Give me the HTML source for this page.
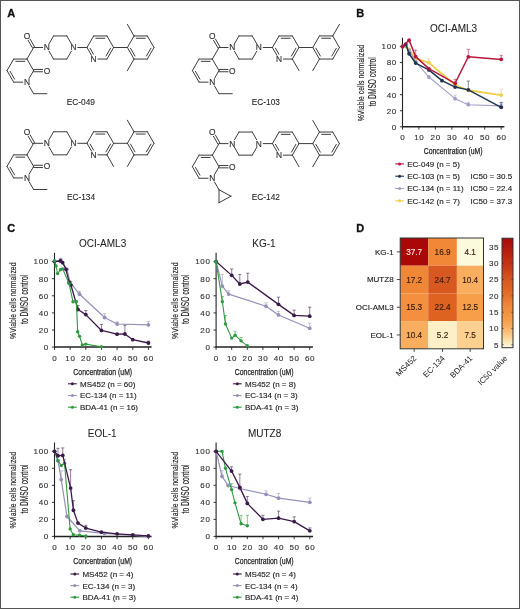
<!DOCTYPE html><html><head><meta charset="utf-8"><style>html,body{margin:0;padding:0;background:#fff;}svg{display:block;will-change:transform;}text{font-family:"Liberation Sans", sans-serif;}</style></head><body>
<svg width="520" height="609" viewBox="0 0 520 609">
<rect x="0" y="0" width="520" height="609" fill="#fff"/>
<text x="7.30" y="17.10" font-size="11" fill="#111" text-anchor="start" font-weight="bold" stroke="#111" stroke-width="0.3">A</text>
<text x="356.20" y="17.10" font-size="11" fill="#111" text-anchor="start" font-weight="bold" stroke="#111" stroke-width="0.3">B</text>
<text x="7.30" y="232.10" font-size="11" fill="#111" text-anchor="start" font-weight="bold" stroke="#111" stroke-width="0.3">C</text>
<text x="356.20" y="231.70" font-size="11" fill="#111" text-anchor="start" font-weight="bold" stroke="#111" stroke-width="0.3">D</text>
<path d="M34.60 46.93L30.09 39.10M32.60 48.07L28.10 40.25M33.60 47.50L26.95 59.05M33.60 47.50L42.60 47.50M26.95 59.05L33.60 70.60M33.60 71.75L42.60 71.75M33.60 69.45L42.60 69.45M33.60 70.60L29.10 78.42M22.65 82.15L13.65 82.15M13.65 82.15L7.00 70.60M14.55 79.10L10.09 71.36M7.00 70.60L13.65 59.05M13.65 59.05L26.95 59.05M15.85 61.35L24.75 61.35M49.05 43.77L53.55 35.95M53.55 35.95L66.85 35.95M66.85 35.95L71.35 43.77M71.35 51.23L66.85 59.05M66.85 59.05L53.55 59.05M53.55 59.05L49.05 51.23M77.80 47.50L87.00 47.50M87.00 47.50L93.65 35.95M93.65 35.95L106.95 35.95M95.85 38.25L104.75 38.25M106.95 35.95L113.60 47.50M113.60 47.50L106.95 59.05M110.51 48.26L106.05 56.00M106.95 59.05L97.95 59.05M91.50 55.32L87.00 47.50M93.50 54.18L90.09 48.26M113.60 47.50L127.40 47.50M127.40 47.50L134.05 35.95M134.05 35.95L147.35 35.95M136.25 38.25L145.15 38.25M147.35 35.95L154.00 47.50M154.00 47.50L147.35 59.05M150.91 48.26L146.45 56.00M147.35 59.05L134.05 59.05M134.05 59.05L127.40 47.50M134.95 56.00L130.49 48.26M134.05 35.95L127.40 24.40M134.05 59.05L127.40 70.60M29.10 85.88L33.60 93.70M33.60 93.70L46.90 93.70" stroke="#3d3d3d" stroke-width="1.0" fill="none" stroke-linecap="round"/>
<text x="26.95" y="38.85" font-size="8.4" fill="#333" stroke="#333" stroke-width="0.15" text-anchor="middle">O</text>
<text x="46.90" y="73.50" font-size="8.4" fill="#333" stroke="#333" stroke-width="0.15" text-anchor="middle">O</text>
<text x="26.95" y="85.05" font-size="8.4" fill="#333" stroke="#333" stroke-width="0.15" text-anchor="middle">N</text>
<text x="46.90" y="50.40" font-size="8.4" fill="#333" stroke="#333" stroke-width="0.15" text-anchor="middle">N</text>
<text x="73.50" y="50.40" font-size="8.4" fill="#333" stroke="#333" stroke-width="0.15" text-anchor="middle">N</text>
<text x="93.65" y="61.95" font-size="8.4" fill="#333" stroke="#333" stroke-width="0.15" text-anchor="middle">N</text>
<path d="M220.00 46.93L215.49 39.10M218.00 48.07L213.50 40.25M219.00 47.50L212.35 59.05M219.00 47.50L228.00 47.50M212.35 59.05L219.00 70.60M219.00 71.75L228.00 71.75M219.00 69.45L228.00 69.45M219.00 70.60L214.50 78.42M208.05 82.15L199.05 82.15M199.05 82.15L192.40 70.60M199.95 79.10L195.49 71.36M192.40 70.60L199.05 59.05M199.05 59.05L212.35 59.05M201.25 61.35L210.15 61.35M234.45 43.77L238.95 35.95M238.95 35.95L252.25 35.95M252.25 35.95L256.75 43.77M256.75 51.23L252.25 59.05M252.25 59.05L238.95 59.05M238.95 59.05L234.45 51.23M263.20 47.50L272.40 47.50M272.40 47.50L279.05 35.95M279.05 35.95L292.35 35.95M281.25 38.25L290.15 38.25M292.35 35.95L299.00 47.50M299.00 47.50L292.35 59.05M295.91 48.26L291.45 56.00M292.35 59.05L283.35 59.05M276.90 55.32L272.40 47.50M278.90 54.18L275.49 48.26M299.00 47.50L312.80 47.50M312.80 47.50L319.45 35.95M319.45 35.95L332.75 35.95M321.65 38.25L330.55 38.25M332.75 35.95L339.40 47.50M339.40 47.50L332.75 59.05M336.31 48.26L331.85 56.00M332.75 59.05L319.45 59.05M319.45 59.05L312.80 47.50M320.35 56.00L315.89 48.26M292.35 59.05L299.00 70.60M332.75 35.95L339.40 24.40M319.45 59.05L312.80 70.60M214.50 85.88L219.00 93.70M219.00 93.70L232.30 93.70" stroke="#3d3d3d" stroke-width="1.0" fill="none" stroke-linecap="round"/>
<text x="212.35" y="38.85" font-size="8.4" fill="#333" stroke="#333" stroke-width="0.15" text-anchor="middle">O</text>
<text x="232.30" y="73.50" font-size="8.4" fill="#333" stroke="#333" stroke-width="0.15" text-anchor="middle">O</text>
<text x="212.35" y="85.05" font-size="8.4" fill="#333" stroke="#333" stroke-width="0.15" text-anchor="middle">N</text>
<text x="232.30" y="50.40" font-size="8.4" fill="#333" stroke="#333" stroke-width="0.15" text-anchor="middle">N</text>
<text x="258.90" y="50.40" font-size="8.4" fill="#333" stroke="#333" stroke-width="0.15" text-anchor="middle">N</text>
<text x="279.05" y="61.95" font-size="8.4" fill="#333" stroke="#333" stroke-width="0.15" text-anchor="middle">N</text>
<path d="M34.60 142.73L30.09 134.90M32.60 143.87L28.10 136.05M33.60 143.30L26.95 154.85M33.60 143.30L42.60 143.30M26.95 154.85L33.60 166.40M33.60 167.55L42.60 167.55M33.60 165.25L42.60 165.25M33.60 166.40L29.10 174.22M22.65 177.95L13.65 177.95M13.65 177.95L7.00 166.40M14.55 174.90L10.09 167.16M7.00 166.40L13.65 154.85M13.65 154.85L26.95 154.85M15.85 157.15L24.75 157.15M49.05 139.57L53.55 131.75M53.55 131.75L66.85 131.75M66.85 131.75L71.35 139.57M71.35 147.03L66.85 154.85M66.85 154.85L53.55 154.85M53.55 154.85L49.05 147.03M77.80 143.30L87.00 143.30M87.00 143.30L93.65 131.75M93.65 131.75L106.95 131.75M95.85 134.05L104.75 134.05M106.95 131.75L113.60 143.30M113.60 143.30L106.95 154.85M110.51 144.06L106.05 151.80M106.95 154.85L97.95 154.85M91.50 151.12L87.00 143.30M93.50 149.98L90.09 144.06M113.60 143.30L127.40 143.30M127.40 143.30L134.05 131.75M134.05 131.75L147.35 131.75M136.25 134.05L145.15 134.05M147.35 131.75L154.00 143.30M154.00 143.30L147.35 154.85M150.91 144.06L146.45 151.80M147.35 154.85L134.05 154.85M134.05 154.85L127.40 143.30M134.95 151.80L130.49 144.06M106.95 154.85L113.60 166.40M134.05 131.75L127.40 120.20M134.05 154.85L127.40 166.40M29.10 181.68L33.60 189.50M33.60 189.50L46.90 189.50" stroke="#3d3d3d" stroke-width="1.0" fill="none" stroke-linecap="round"/>
<text x="26.95" y="134.65" font-size="8.4" fill="#333" stroke="#333" stroke-width="0.15" text-anchor="middle">O</text>
<text x="46.90" y="169.30" font-size="8.4" fill="#333" stroke="#333" stroke-width="0.15" text-anchor="middle">O</text>
<text x="26.95" y="180.85" font-size="8.4" fill="#333" stroke="#333" stroke-width="0.15" text-anchor="middle">N</text>
<text x="46.90" y="146.20" font-size="8.4" fill="#333" stroke="#333" stroke-width="0.15" text-anchor="middle">N</text>
<text x="73.50" y="146.20" font-size="8.4" fill="#333" stroke="#333" stroke-width="0.15" text-anchor="middle">N</text>
<text x="93.65" y="157.75" font-size="8.4" fill="#333" stroke="#333" stroke-width="0.15" text-anchor="middle">N</text>
<path d="M220.00 143.03L215.49 135.20M218.00 144.17L213.50 136.35M219.00 143.60L212.35 155.15M219.00 143.60L228.00 143.60M212.35 155.15L219.00 166.70M219.00 167.85L228.00 167.85M219.00 165.55L228.00 165.55M219.00 166.70L214.50 174.52M208.05 178.25L199.05 178.25M199.05 178.25L192.40 166.70M199.95 175.20L195.49 167.46M192.40 166.70L199.05 155.15M199.05 155.15L212.35 155.15M201.25 157.45L210.15 157.45M234.45 139.87L238.95 132.05M238.95 132.05L252.25 132.05M252.25 132.05L256.75 139.87M256.75 147.33L252.25 155.15M252.25 155.15L238.95 155.15M238.95 155.15L234.45 147.33M263.20 143.60L272.40 143.60M272.40 143.60L279.05 132.05M279.05 132.05L292.35 132.05M281.25 134.35L290.15 134.35M292.35 132.05L299.00 143.60M299.00 143.60L292.35 155.15M295.91 144.36L291.45 152.10M292.35 155.15L283.35 155.15M276.90 151.42L272.40 143.60M278.90 150.28L275.49 144.36M299.00 143.60L312.80 143.60M312.80 143.60L319.45 132.05M319.45 132.05L332.75 132.05M321.65 134.35L330.55 134.35M332.75 132.05L339.40 143.60M339.40 143.60L332.75 155.15M336.31 144.36L331.85 152.10M332.75 155.15L319.45 155.15M319.45 155.15L312.80 143.60M320.35 152.10L315.89 144.36M292.35 155.15L299.00 166.70M319.45 132.05L312.80 120.50M319.45 155.15L312.80 166.70M214.50 181.98L219.00 189.80M219.00 189.80L231.00 196.20M231.00 196.20L219.00 202.70M219.00 202.70L219.00 189.80" stroke="#3d3d3d" stroke-width="1.0" fill="none" stroke-linecap="round"/>
<text x="212.35" y="134.95" font-size="8.4" fill="#333" stroke="#333" stroke-width="0.15" text-anchor="middle">O</text>
<text x="232.30" y="169.60" font-size="8.4" fill="#333" stroke="#333" stroke-width="0.15" text-anchor="middle">O</text>
<text x="212.35" y="181.15" font-size="8.4" fill="#333" stroke="#333" stroke-width="0.15" text-anchor="middle">N</text>
<text x="232.30" y="146.50" font-size="8.4" fill="#333" stroke="#333" stroke-width="0.15" text-anchor="middle">N</text>
<text x="258.90" y="146.50" font-size="8.4" fill="#333" stroke="#333" stroke-width="0.15" text-anchor="middle">N</text>
<text x="279.05" y="158.05" font-size="8.4" fill="#333" stroke="#333" stroke-width="0.15" text-anchor="middle">N</text>
<text x="66.8" y="104.7" font-size="8.4" fill="#222" stroke="#222" stroke-width="0.08" textLength="28.2" lengthAdjust="spacingAndGlyphs">EC-049</text>
<text x="251.7" y="104.7" font-size="8.4" fill="#222" stroke="#222" stroke-width="0.08" textLength="28.2" lengthAdjust="spacingAndGlyphs">EC-103</text>
<text x="66.9" y="200.1" font-size="8.4" fill="#222" stroke="#222" stroke-width="0.08" textLength="28.2" lengthAdjust="spacingAndGlyphs">EC-134</text>
<text x="251.7" y="200.2" font-size="8.4" fill="#222" stroke="#222" stroke-width="0.08" textLength="28.2" lengthAdjust="spacingAndGlyphs">EC-142</text>
<path d="M402.50 37.70V127.10" stroke="#222" stroke-width="1.1" fill="none"/>
<path d="M402.00 126.80H504.40" stroke="#222" stroke-width="1.5" fill="none"/>
<path d="M399.90 126.80H402.5M399.90 110.74H402.5M399.90 94.68H402.5M399.90 78.62H402.5M399.90 62.56H402.5M399.90 46.50H402.5M402.50 126.8V129.60M418.95 126.8V129.60M435.40 126.8V129.60M451.85 126.8V129.60M468.30 126.8V129.60M484.75 126.8V129.60M501.20 126.8V129.60" stroke="#222" stroke-width="0.9" fill="none"/>
<text x="397.00" y="129.65" font-size="8" fill="#333" text-anchor="end" font-weight="normal" stroke="#333" stroke-width="0.14" letter-spacing="0.7" >0</text>
<text x="397.00" y="113.59" font-size="8" fill="#333" text-anchor="end" font-weight="normal" stroke="#333" stroke-width="0.14" letter-spacing="0.7" >20</text>
<text x="397.00" y="97.53" font-size="8" fill="#333" text-anchor="end" font-weight="normal" stroke="#333" stroke-width="0.14" letter-spacing="0.7" >40</text>
<text x="397.00" y="81.47" font-size="8" fill="#333" text-anchor="end" font-weight="normal" stroke="#333" stroke-width="0.14" letter-spacing="0.7" >60</text>
<text x="397.00" y="65.41" font-size="8" fill="#333" text-anchor="end" font-weight="normal" stroke="#333" stroke-width="0.14" letter-spacing="0.7" >80</text>
<text x="397.00" y="49.35" font-size="8" fill="#333" text-anchor="end" font-weight="normal" stroke="#333" stroke-width="0.14" letter-spacing="0.7" >100</text>
<text x="402.85" y="140.30" font-size="8" fill="#333" text-anchor="middle" font-weight="normal" stroke="#333" stroke-width="0.14" letter-spacing="0.7" >0</text>
<text x="419.30" y="140.30" font-size="8" fill="#333" text-anchor="middle" font-weight="normal" stroke="#333" stroke-width="0.14" letter-spacing="0.7" >10</text>
<text x="435.75" y="140.30" font-size="8" fill="#333" text-anchor="middle" font-weight="normal" stroke="#333" stroke-width="0.14" letter-spacing="0.7" >20</text>
<text x="452.20" y="140.30" font-size="8" fill="#333" text-anchor="middle" font-weight="normal" stroke="#333" stroke-width="0.14" letter-spacing="0.7" >30</text>
<text x="468.65" y="140.30" font-size="8" fill="#333" text-anchor="middle" font-weight="normal" stroke="#333" stroke-width="0.14" letter-spacing="0.7" >40</text>
<text x="485.10" y="140.30" font-size="8" fill="#333" text-anchor="middle" font-weight="normal" stroke="#333" stroke-width="0.14" letter-spacing="0.7" >50</text>
<text x="501.55" y="140.30" font-size="8" fill="#333" text-anchor="middle" font-weight="normal" stroke="#333" stroke-width="0.14" letter-spacing="0.7" >60</text>
<text transform="translate(453.15,154.20)" x="0" y="0" font-size="9.6" fill="#222" text-anchor="middle" textLength="58.8" lengthAdjust="spacingAndGlyphs" stroke="#222" stroke-width="0.25">Concentration (uM)</text>
<text transform="translate(363.90,83.05) rotate(-90)" x="0" y="0" font-size="9.8" fill="#222" text-anchor="middle" textLength="76.5" lengthAdjust="spacingAndGlyphs" stroke="#222" stroke-width="0.15">%Viable cells normalized</text>
<text transform="translate(375.60,81.75) rotate(-90)" x="0" y="0" font-size="10.4" fill="#222" text-anchor="middle" textLength="49" lengthAdjust="spacingAndGlyphs" stroke="#222" stroke-width="0.15">to DMSO control</text>
<text x="453.50" y="32.20" font-size="10" fill="#222" text-anchor="middle" font-weight="normal" stroke="#222" stroke-width="0.05" >OCI-AML3</text>
<path d="M428.82 62.56V58.95M427.22 58.95H430.42M501.20 95.08V89.06M499.60 89.06H502.80" stroke="#f2b48a" stroke-width="0.8" fill="none" opacity="0.7"/>
<polyline points="402.50,46.50 405.79,46.50 409.08,49.31 415.66,58.54 428.82,62.56 455.14,85.04 468.30,90.26 501.20,95.08" stroke="#efcf4a" stroke-width="1.8" fill="none" stroke-linejoin="round"/>
<circle cx="402.50" cy="46.50" r="1.9" fill="#efcf4a"/>
<circle cx="405.79" cy="46.50" r="1.9" fill="#efcf4a"/>
<circle cx="409.08" cy="49.31" r="1.9" fill="#efcf4a"/>
<circle cx="415.66" cy="58.54" r="1.9" fill="#efcf4a"/>
<circle cx="428.82" cy="62.56" r="1.9" fill="#efcf4a"/>
<circle cx="455.14" cy="85.04" r="1.9" fill="#efcf4a"/>
<circle cx="468.30" cy="90.26" r="1.9" fill="#efcf4a"/>
<circle cx="501.20" cy="95.08" r="1.9" fill="#efcf4a"/>
<path d="M455.14 98.69V95.08M453.54 95.08H456.74M468.30 104.72V102.31M466.70 102.31H469.90M501.20 105.92V102.31M499.60 102.31H502.80" stroke="#a19dc9" stroke-width="0.8" fill="none" opacity="0.7"/>
<polyline points="402.50,46.50 405.79,45.70 409.08,50.51 415.66,61.76 428.82,77.01 455.14,98.69 468.30,104.72 501.20,105.92" stroke="#a19dc9" stroke-width="1.1" fill="none" stroke-linejoin="round"/>
<circle cx="402.50" cy="46.50" r="1.9" fill="#a19dc9"/>
<circle cx="405.79" cy="45.70" r="1.9" fill="#a19dc9"/>
<circle cx="409.08" cy="50.51" r="1.9" fill="#a19dc9"/>
<circle cx="415.66" cy="61.76" r="1.9" fill="#a19dc9"/>
<circle cx="428.82" cy="77.01" r="1.9" fill="#a19dc9"/>
<circle cx="455.14" cy="98.69" r="1.9" fill="#a19dc9"/>
<circle cx="468.30" cy="104.72" r="1.9" fill="#a19dc9"/>
<circle cx="501.20" cy="105.92" r="1.9" fill="#a19dc9"/>
<path d="M468.30 89.86V81.03M466.70 81.03H469.90M501.20 107.29V102.71M499.60 102.71H502.80" stroke="#1c3552" stroke-width="0.8" fill="none" opacity="0.7"/>
<polyline points="402.50,46.50 405.79,44.09 409.08,53.73 415.66,63.12 428.82,69.95 441.98,80.63 455.14,87.05 468.30,89.86 501.20,107.29" stroke="#1c3552" stroke-width="1.5" fill="none" stroke-linejoin="round"/>
<circle cx="402.50" cy="46.50" r="1.9" fill="#1c3552"/>
<circle cx="405.79" cy="44.09" r="1.9" fill="#1c3552"/>
<circle cx="409.08" cy="53.73" r="1.9" fill="#1c3552"/>
<circle cx="415.66" cy="63.12" r="1.9" fill="#1c3552"/>
<circle cx="428.82" cy="69.95" r="1.9" fill="#1c3552"/>
<circle cx="441.98" cy="80.63" r="1.9" fill="#1c3552"/>
<circle cx="455.14" cy="87.05" r="1.9" fill="#1c3552"/>
<circle cx="468.30" cy="89.86" r="1.9" fill="#1c3552"/>
<circle cx="501.20" cy="107.29" r="1.9" fill="#1c3552"/>
<path d="M415.66 56.62V50.11M414.06 50.11H417.26M455.14 83.28V79.42M453.54 79.42H456.74M468.30 56.78V49.31M466.70 49.31H469.90M501.20 59.43V55.33M499.60 55.33H502.80" stroke="#b8173c" stroke-width="0.8" fill="none" opacity="0.7"/>
<polyline points="402.50,46.50 409.08,40.24 415.66,56.62 428.82,68.58 455.14,83.28 468.30,56.78 501.20,59.43" stroke="#b8173c" stroke-width="1.5" fill="none" stroke-linejoin="round"/>
<circle cx="402.50" cy="46.50" r="1.9" fill="#b8173c"/>
<circle cx="409.08" cy="40.24" r="1.9" fill="#b8173c"/>
<circle cx="415.66" cy="56.62" r="1.9" fill="#b8173c"/>
<circle cx="428.82" cy="68.58" r="1.9" fill="#b8173c"/>
<circle cx="455.14" cy="83.28" r="1.9" fill="#b8173c"/>
<circle cx="468.30" cy="56.78" r="1.9" fill="#b8173c"/>
<circle cx="501.20" cy="59.43" r="1.9" fill="#b8173c"/>
<path d="M395.20 163.90h8.8" stroke="#b8173c" stroke-width="1.1"/>
<circle cx="399.60" cy="163.90" r="1.5" fill="#b8173c"/>
<text x="407.20" y="166.80" font-size="8" fill="#222" text-anchor="start" font-weight="normal" stroke="#222" stroke-width="0.14" >EC-049 (n = 5)</text>
<path d="M395.20 176.20h8.8" stroke="#1c3552" stroke-width="1.1"/>
<circle cx="399.60" cy="176.20" r="1.5" fill="#1c3552"/>
<text x="407.20" y="179.10" font-size="8" fill="#222" text-anchor="start" font-weight="normal" stroke="#222" stroke-width="0.14" >EC-103 (n = 5)</text>
<path d="M395.20 188.50h8.8" stroke="#a19dc9" stroke-width="1.1"/>
<circle cx="399.60" cy="188.50" r="1.5" fill="#a19dc9"/>
<text x="407.20" y="191.40" font-size="8" fill="#222" text-anchor="start" font-weight="normal" stroke="#222" stroke-width="0.14" >EC-134 (n = 11)</text>
<path d="M395.20 200.80h8.8" stroke="#efcf4a" stroke-width="1.1"/>
<circle cx="399.60" cy="200.80" r="1.5" fill="#efcf4a"/>
<text x="407.20" y="203.70" font-size="8" fill="#222" text-anchor="start" font-weight="normal" stroke="#222" stroke-width="0.14" >EC-142 (n = 7)</text>
<text x="470.50" y="179.10" font-size="8" fill="#222" text-anchor="start" font-weight="normal" stroke="#222" stroke-width="0.14" >IC50 = 30.5</text>
<text x="470.50" y="191.40" font-size="8" fill="#222" text-anchor="start" font-weight="normal" stroke="#222" stroke-width="0.14" >IC50 = 22.4</text>
<text x="470.50" y="203.70" font-size="8" fill="#222" text-anchor="start" font-weight="normal" stroke="#222" stroke-width="0.14" >IC50 = 37.3</text>
<path d="M54.50 252.80V347.40" stroke="#222" stroke-width="1.1" fill="none"/>
<path d="M54.00 347.10H151.60" stroke="#222" stroke-width="1.5" fill="none"/>
<path d="M51.90 347.10H54.5M51.90 330.00H54.5M51.90 312.90H54.5M51.90 295.80H54.5M51.90 278.70H54.5M51.90 261.60H54.5M54.50 347.1V349.90M70.15 347.1V349.90M85.80 347.1V349.90M101.45 347.1V349.90M117.10 347.1V349.90M132.75 347.1V349.90M148.40 347.1V349.90" stroke="#222" stroke-width="0.9" fill="none"/>
<text x="49.00" y="349.95" font-size="8" fill="#333" text-anchor="end" font-weight="normal" stroke="#333" stroke-width="0.14" letter-spacing="0.7" >0</text>
<text x="49.00" y="332.85" font-size="8" fill="#333" text-anchor="end" font-weight="normal" stroke="#333" stroke-width="0.14" letter-spacing="0.7" >20</text>
<text x="49.00" y="315.75" font-size="8" fill="#333" text-anchor="end" font-weight="normal" stroke="#333" stroke-width="0.14" letter-spacing="0.7" >40</text>
<text x="49.00" y="298.65" font-size="8" fill="#333" text-anchor="end" font-weight="normal" stroke="#333" stroke-width="0.14" letter-spacing="0.7" >60</text>
<text x="49.00" y="281.55" font-size="8" fill="#333" text-anchor="end" font-weight="normal" stroke="#333" stroke-width="0.14" letter-spacing="0.7" >80</text>
<text x="49.00" y="264.45" font-size="8" fill="#333" text-anchor="end" font-weight="normal" stroke="#333" stroke-width="0.14" letter-spacing="0.7" >100</text>
<text x="54.85" y="360.60" font-size="8" fill="#333" text-anchor="middle" font-weight="normal" stroke="#333" stroke-width="0.14" letter-spacing="0.7" >0</text>
<text x="70.50" y="360.60" font-size="8" fill="#333" text-anchor="middle" font-weight="normal" stroke="#333" stroke-width="0.14" letter-spacing="0.7" >10</text>
<text x="86.15" y="360.60" font-size="8" fill="#333" text-anchor="middle" font-weight="normal" stroke="#333" stroke-width="0.14" letter-spacing="0.7" >20</text>
<text x="101.80" y="360.60" font-size="8" fill="#333" text-anchor="middle" font-weight="normal" stroke="#333" stroke-width="0.14" letter-spacing="0.7" >30</text>
<text x="117.45" y="360.60" font-size="8" fill="#333" text-anchor="middle" font-weight="normal" stroke="#333" stroke-width="0.14" letter-spacing="0.7" >40</text>
<text x="133.10" y="360.60" font-size="8" fill="#333" text-anchor="middle" font-weight="normal" stroke="#333" stroke-width="0.14" letter-spacing="0.7" >50</text>
<text x="148.75" y="360.60" font-size="8" fill="#333" text-anchor="middle" font-weight="normal" stroke="#333" stroke-width="0.14" letter-spacing="0.7" >60</text>
<text transform="translate(102.75,374.50)" x="0" y="0" font-size="9.6" fill="#222" text-anchor="middle" textLength="58.8" lengthAdjust="spacingAndGlyphs" stroke="#222" stroke-width="0.25">Concentration (uM)</text>
<text transform="translate(15.90,300.75) rotate(-90)" x="0" y="0" font-size="9.8" fill="#222" text-anchor="middle" textLength="76.5" lengthAdjust="spacingAndGlyphs" stroke="#222" stroke-width="0.15">%Viable cells normalized</text>
<text transform="translate(27.60,299.45) rotate(-90)" x="0" y="0" font-size="10.4" fill="#222" text-anchor="middle" textLength="49" lengthAdjust="spacingAndGlyphs" stroke="#222" stroke-width="0.15">to DMSO control</text>
<text x="102.60" y="246.80" font-size="10" fill="#222" text-anchor="middle" font-weight="normal" stroke="#222" stroke-width="0.05" >OCI-AML3</text>
<path d="M60.76 259.89V258.18M59.16 258.18H62.36M79.54 294.26V291.27M77.94 291.27H81.14M104.58 317.52V313.75M102.98 313.75H106.18M117.10 324.02V321.88M115.50 321.88H118.70M148.40 324.87V321.45M146.80 321.45H150.00" stroke="#9491b8" stroke-width="0.8" fill="none" opacity="0.7"/>
<polyline points="54.50,261.60 60.76,259.89 67.02,269.30 70.15,282.12 79.54,294.26 104.58,317.52 117.10,324.02 148.40,324.87" stroke="#9491b8" stroke-width="1.2" fill="none" stroke-linejoin="round"/>
<circle cx="54.50" cy="261.60" r="1.9" fill="#9491b8"/>
<circle cx="60.76" cy="259.89" r="1.9" fill="#9491b8"/>
<circle cx="67.02" cy="269.30" r="1.9" fill="#9491b8"/>
<circle cx="70.15" cy="282.12" r="1.9" fill="#9491b8"/>
<circle cx="79.54" cy="294.26" r="1.9" fill="#9491b8"/>
<circle cx="104.58" cy="317.52" r="1.9" fill="#9491b8"/>
<circle cx="117.10" cy="324.02" r="1.9" fill="#9491b8"/>
<circle cx="148.40" cy="324.87" r="1.9" fill="#9491b8"/>
<path d="M77.97 309.48V305.55M76.38 305.55H79.57M85.80 314.61V310.59M84.20 310.59H87.40M101.45 330.43V324.44M99.85 324.44H103.05M124.92 334.02V325.30M123.33 325.30H126.52M148.40 343.00V341.12M146.80 341.12H150.00" stroke="#3b1a4a" stroke-width="0.8" fill="none" opacity="0.7"/>
<polyline points="54.50,261.60 60.45,261.00 62.64,262.63 65.92,269.30 69.21,282.38 70.93,285.03 77.97,309.48 85.80,314.61 101.45,330.43 117.10,334.19 124.92,334.02 132.75,339.66 148.40,343.00" stroke="#3b1a4a" stroke-width="1.3" fill="none" stroke-linejoin="round"/>
<circle cx="54.50" cy="261.60" r="1.9" fill="#3b1a4a"/>
<circle cx="60.45" cy="261.00" r="1.9" fill="#3b1a4a"/>
<circle cx="62.64" cy="262.63" r="1.9" fill="#3b1a4a"/>
<circle cx="65.92" cy="269.30" r="1.9" fill="#3b1a4a"/>
<circle cx="69.21" cy="282.38" r="1.9" fill="#3b1a4a"/>
<circle cx="70.93" cy="285.03" r="1.9" fill="#3b1a4a"/>
<circle cx="77.97" cy="309.48" r="1.9" fill="#3b1a4a"/>
<circle cx="85.80" cy="314.61" r="1.9" fill="#3b1a4a"/>
<circle cx="101.45" cy="330.43" r="1.9" fill="#3b1a4a"/>
<circle cx="117.10" cy="334.19" r="1.9" fill="#3b1a4a"/>
<circle cx="124.92" cy="334.02" r="1.9" fill="#3b1a4a"/>
<circle cx="132.75" cy="339.66" r="1.9" fill="#3b1a4a"/>
<circle cx="148.40" cy="343.00" r="1.9" fill="#3b1a4a"/>
<polyline points="54.50,260.75 56.06,265.88 57.63,273.57 60.45,269.72 62.64,268.87 69.21,283.83 72.97,301.79 76.41,301.79 77.66,331.71 79.54,336.33 82.36,344.96 85.80,344.11 101.45,346.67" stroke="#2f9a40" stroke-width="1.1" fill="none" stroke-linejoin="round"/>
<circle cx="54.50" cy="260.75" r="1.7" fill="#2f9a40"/>
<circle cx="56.06" cy="265.88" r="1.7" fill="#2f9a40"/>
<circle cx="57.63" cy="273.57" r="1.7" fill="#2f9a40"/>
<circle cx="60.45" cy="269.72" r="1.7" fill="#2f9a40"/>
<circle cx="62.64" cy="268.87" r="1.7" fill="#2f9a40"/>
<circle cx="69.21" cy="283.83" r="1.7" fill="#2f9a40"/>
<circle cx="72.97" cy="301.79" r="1.7" fill="#2f9a40"/>
<circle cx="76.41" cy="301.79" r="1.7" fill="#2f9a40"/>
<circle cx="77.66" cy="331.71" r="1.7" fill="#2f9a40"/>
<circle cx="79.54" cy="336.33" r="1.7" fill="#2f9a40"/>
<circle cx="82.36" cy="344.96" r="1.7" fill="#2f9a40"/>
<circle cx="85.80" cy="344.11" r="1.7" fill="#2f9a40"/>
<circle cx="101.45" cy="346.67" r="1.7" fill="#2f9a40"/>
<path d="M68.00 383.80h8.8" stroke="#3b1a4a" stroke-width="1.1"/>
<circle cx="72.40" cy="383.80" r="1.5" fill="#3b1a4a"/>
<text x="80.00" y="386.70" font-size="8" fill="#222" text-anchor="start" font-weight="normal" stroke="#222" stroke-width="0.14" >MS452 (n = 60)</text>
<path d="M68.00 395.50h8.8" stroke="#9491b8" stroke-width="1.1"/>
<circle cx="72.40" cy="395.50" r="1.5" fill="#9491b8"/>
<text x="80.00" y="398.40" font-size="8" fill="#222" text-anchor="start" font-weight="normal" stroke="#222" stroke-width="0.14" >EC-134 (n = 11)</text>
<path d="M68.00 407.20h8.8" stroke="#2f9a40" stroke-width="1.1"/>
<circle cx="72.40" cy="407.20" r="1.5" fill="#2f9a40"/>
<text x="80.00" y="410.10" font-size="8" fill="#222" text-anchor="start" font-weight="normal" stroke="#222" stroke-width="0.14" >BDA-41 (n = 16)</text>
<path d="M216.10 252.80V347.40" stroke="#222" stroke-width="1.1" fill="none"/>
<path d="M215.60 347.10H312.90" stroke="#222" stroke-width="1.5" fill="none"/>
<path d="M213.50 347.10H216.1M213.50 330.00H216.1M213.50 312.90H216.1M213.50 295.80H216.1M213.50 278.70H216.1M213.50 261.60H216.1M216.10 347.1V349.90M231.70 347.1V349.90M247.30 347.1V349.90M262.90 347.1V349.90M278.50 347.1V349.90M294.10 347.1V349.90M309.70 347.1V349.90" stroke="#222" stroke-width="0.9" fill="none"/>
<text x="210.60" y="349.95" font-size="8" fill="#333" text-anchor="end" font-weight="normal" stroke="#333" stroke-width="0.14" letter-spacing="0.7" >0</text>
<text x="210.60" y="332.85" font-size="8" fill="#333" text-anchor="end" font-weight="normal" stroke="#333" stroke-width="0.14" letter-spacing="0.7" >20</text>
<text x="210.60" y="315.75" font-size="8" fill="#333" text-anchor="end" font-weight="normal" stroke="#333" stroke-width="0.14" letter-spacing="0.7" >40</text>
<text x="210.60" y="298.65" font-size="8" fill="#333" text-anchor="end" font-weight="normal" stroke="#333" stroke-width="0.14" letter-spacing="0.7" >60</text>
<text x="210.60" y="281.55" font-size="8" fill="#333" text-anchor="end" font-weight="normal" stroke="#333" stroke-width="0.14" letter-spacing="0.7" >80</text>
<text x="210.60" y="264.45" font-size="8" fill="#333" text-anchor="end" font-weight="normal" stroke="#333" stroke-width="0.14" letter-spacing="0.7" >100</text>
<text x="216.45" y="360.60" font-size="8" fill="#333" text-anchor="middle" font-weight="normal" stroke="#333" stroke-width="0.14" letter-spacing="0.7" >0</text>
<text x="232.05" y="360.60" font-size="8" fill="#333" text-anchor="middle" font-weight="normal" stroke="#333" stroke-width="0.14" letter-spacing="0.7" >10</text>
<text x="247.65" y="360.60" font-size="8" fill="#333" text-anchor="middle" font-weight="normal" stroke="#333" stroke-width="0.14" letter-spacing="0.7" >20</text>
<text x="263.25" y="360.60" font-size="8" fill="#333" text-anchor="middle" font-weight="normal" stroke="#333" stroke-width="0.14" letter-spacing="0.7" >30</text>
<text x="278.85" y="360.60" font-size="8" fill="#333" text-anchor="middle" font-weight="normal" stroke="#333" stroke-width="0.14" letter-spacing="0.7" >40</text>
<text x="294.45" y="360.60" font-size="8" fill="#333" text-anchor="middle" font-weight="normal" stroke="#333" stroke-width="0.14" letter-spacing="0.7" >50</text>
<text x="310.05" y="360.60" font-size="8" fill="#333" text-anchor="middle" font-weight="normal" stroke="#333" stroke-width="0.14" letter-spacing="0.7" >60</text>
<text transform="translate(264.20,374.50)" x="0" y="0" font-size="9.6" fill="#222" text-anchor="middle" textLength="58.8" lengthAdjust="spacingAndGlyphs" stroke="#222" stroke-width="0.25">Concentration (uM)</text>
<text transform="translate(177.50,300.75) rotate(-90)" x="0" y="0" font-size="9.8" fill="#222" text-anchor="middle" textLength="76.5" lengthAdjust="spacingAndGlyphs" stroke="#222" stroke-width="0.15">%Viable cells normalized</text>
<text transform="translate(189.20,299.45) rotate(-90)" x="0" y="0" font-size="10.4" fill="#222" text-anchor="middle" textLength="49" lengthAdjust="spacingAndGlyphs" stroke="#222" stroke-width="0.15">to DMSO control</text>
<text x="264.00" y="246.90" font-size="10" fill="#222" text-anchor="middle" font-weight="normal" stroke="#222" stroke-width="0.05" >KG-1</text>
<path d="M222.34 286.05V274.43M220.74 274.43H223.94M228.58 294.09V290.84M226.98 290.84H230.18M266.02 306.23V302.81M264.42 302.81H267.62M278.50 314.95V311.45M276.90 311.45H280.10M309.70 328.29V323.16M308.10 323.16H311.30" stroke="#9491b8" stroke-width="0.8" fill="none" opacity="0.7"/>
<polyline points="216.10,261.60 222.34,286.05 228.58,294.09 266.02,306.23 278.50,314.95 309.70,328.29" stroke="#9491b8" stroke-width="1.2" fill="none" stroke-linejoin="round"/>
<circle cx="216.10" cy="261.60" r="1.9" fill="#9491b8"/>
<circle cx="222.34" cy="286.05" r="1.9" fill="#9491b8"/>
<circle cx="228.58" cy="294.09" r="1.9" fill="#9491b8"/>
<circle cx="266.02" cy="306.23" r="1.9" fill="#9491b8"/>
<circle cx="278.50" cy="314.95" r="1.9" fill="#9491b8"/>
<circle cx="309.70" cy="328.29" r="1.9" fill="#9491b8"/>
<path d="M231.70 275.37V268.95M230.10 268.95H233.30M239.81 284.00V274.43M238.21 274.43H241.41M247.77 282.12V273.23M246.17 273.23H249.37M278.50 304.35V297.17M276.90 297.17H280.10M294.10 315.38V310.16M292.50 310.16H295.70M309.70 316.15V307.17M308.10 307.17H311.30" stroke="#3b1a4a" stroke-width="0.8" fill="none" opacity="0.7"/>
<polyline points="216.10,261.60 231.70,275.37 239.81,284.00 247.77,282.12 278.50,304.35 294.10,315.38 309.70,316.15" stroke="#3b1a4a" stroke-width="1.3" fill="none" stroke-linejoin="round"/>
<circle cx="216.10" cy="261.60" r="1.9" fill="#3b1a4a"/>
<circle cx="231.70" cy="275.37" r="1.9" fill="#3b1a4a"/>
<circle cx="239.81" cy="284.00" r="1.9" fill="#3b1a4a"/>
<circle cx="247.77" cy="282.12" r="1.9" fill="#3b1a4a"/>
<circle cx="278.50" cy="304.35" r="1.9" fill="#3b1a4a"/>
<circle cx="294.10" cy="315.38" r="1.9" fill="#3b1a4a"/>
<circle cx="309.70" cy="316.15" r="1.9" fill="#3b1a4a"/>
<path d="M222.34 301.79V296.40M220.74 296.40H223.94M225.46 324.02V315.47M223.86 315.47H227.06M235.13 335.22V331.71M233.53 331.71H236.73M241.06 340.86V337.52M239.46 337.52H242.66" stroke="#2f9a40" stroke-width="0.8" fill="none" opacity="0.7"/>
<polyline points="216.10,261.60 222.34,301.79 225.46,324.02 231.70,338.12 235.13,335.22 241.06,340.86 247.30,345.82" stroke="#2f9a40" stroke-width="1.1" fill="none" stroke-linejoin="round"/>
<circle cx="216.10" cy="261.60" r="1.7" fill="#2f9a40"/>
<circle cx="222.34" cy="301.79" r="1.7" fill="#2f9a40"/>
<circle cx="225.46" cy="324.02" r="1.7" fill="#2f9a40"/>
<circle cx="231.70" cy="338.12" r="1.7" fill="#2f9a40"/>
<circle cx="235.13" cy="335.22" r="1.7" fill="#2f9a40"/>
<circle cx="241.06" cy="340.86" r="1.7" fill="#2f9a40"/>
<circle cx="247.30" cy="345.82" r="1.7" fill="#2f9a40"/>
<path d="M232.90 383.80h8.8" stroke="#3b1a4a" stroke-width="1.1"/>
<circle cx="237.30" cy="383.80" r="1.5" fill="#3b1a4a"/>
<text x="244.90" y="386.70" font-size="8" fill="#222" text-anchor="start" font-weight="normal" stroke="#222" stroke-width="0.14" >MS452 (n = 8)</text>
<path d="M232.90 395.50h8.8" stroke="#9491b8" stroke-width="1.1"/>
<circle cx="237.30" cy="395.50" r="1.5" fill="#9491b8"/>
<text x="244.90" y="398.40" font-size="8" fill="#222" text-anchor="start" font-weight="normal" stroke="#222" stroke-width="0.14" >EC-134 (n = 3)</text>
<path d="M232.90 407.20h8.8" stroke="#2f9a40" stroke-width="1.1"/>
<circle cx="237.30" cy="407.20" r="1.5" fill="#2f9a40"/>
<text x="244.90" y="410.10" font-size="8" fill="#222" text-anchor="start" font-weight="normal" stroke="#222" stroke-width="0.14" >BDA-41 (n = 3)</text>
<path d="M54.50 442.50V536.70" stroke="#222" stroke-width="1.1" fill="none"/>
<path d="M54.00 536.40H151.60" stroke="#222" stroke-width="1.5" fill="none"/>
<path d="M51.90 536.40H54.5M51.90 519.38H54.5M51.90 502.36H54.5M51.90 485.34H54.5M51.90 468.32H54.5M51.90 451.30H54.5M54.50 536.4V539.20M70.15 536.4V539.20M85.80 536.4V539.20M101.45 536.4V539.20M117.10 536.4V539.20M132.75 536.4V539.20M148.40 536.4V539.20" stroke="#222" stroke-width="0.9" fill="none"/>
<text x="49.00" y="539.25" font-size="8" fill="#333" text-anchor="end" font-weight="normal" stroke="#333" stroke-width="0.14" letter-spacing="0.7" >0</text>
<text x="49.00" y="522.23" font-size="8" fill="#333" text-anchor="end" font-weight="normal" stroke="#333" stroke-width="0.14" letter-spacing="0.7" >20</text>
<text x="49.00" y="505.21" font-size="8" fill="#333" text-anchor="end" font-weight="normal" stroke="#333" stroke-width="0.14" letter-spacing="0.7" >40</text>
<text x="49.00" y="488.19" font-size="8" fill="#333" text-anchor="end" font-weight="normal" stroke="#333" stroke-width="0.14" letter-spacing="0.7" >60</text>
<text x="49.00" y="471.17" font-size="8" fill="#333" text-anchor="end" font-weight="normal" stroke="#333" stroke-width="0.14" letter-spacing="0.7" >80</text>
<text x="49.00" y="454.15" font-size="8" fill="#333" text-anchor="end" font-weight="normal" stroke="#333" stroke-width="0.14" letter-spacing="0.7" >100</text>
<text x="54.85" y="549.90" font-size="8" fill="#333" text-anchor="middle" font-weight="normal" stroke="#333" stroke-width="0.14" letter-spacing="0.7" >0</text>
<text x="70.50" y="549.90" font-size="8" fill="#333" text-anchor="middle" font-weight="normal" stroke="#333" stroke-width="0.14" letter-spacing="0.7" >10</text>
<text x="86.15" y="549.90" font-size="8" fill="#333" text-anchor="middle" font-weight="normal" stroke="#333" stroke-width="0.14" letter-spacing="0.7" >20</text>
<text x="101.80" y="549.90" font-size="8" fill="#333" text-anchor="middle" font-weight="normal" stroke="#333" stroke-width="0.14" letter-spacing="0.7" >30</text>
<text x="117.45" y="549.90" font-size="8" fill="#333" text-anchor="middle" font-weight="normal" stroke="#333" stroke-width="0.14" letter-spacing="0.7" >40</text>
<text x="133.10" y="549.90" font-size="8" fill="#333" text-anchor="middle" font-weight="normal" stroke="#333" stroke-width="0.14" letter-spacing="0.7" >50</text>
<text x="148.75" y="549.90" font-size="8" fill="#333" text-anchor="middle" font-weight="normal" stroke="#333" stroke-width="0.14" letter-spacing="0.7" >60</text>
<text transform="translate(102.75,563.80)" x="0" y="0" font-size="9.6" fill="#222" text-anchor="middle" textLength="58.8" lengthAdjust="spacingAndGlyphs" stroke="#222" stroke-width="0.25">Concentration (uM)</text>
<text transform="translate(15.90,490.25) rotate(-90)" x="0" y="0" font-size="9.8" fill="#222" text-anchor="middle" textLength="76.5" lengthAdjust="spacingAndGlyphs" stroke="#222" stroke-width="0.15">%Viable cells normalized</text>
<text transform="translate(27.60,488.95) rotate(-90)" x="0" y="0" font-size="10.4" fill="#222" text-anchor="middle" textLength="49" lengthAdjust="spacingAndGlyphs" stroke="#222" stroke-width="0.15">to DMSO control</text>
<text x="102.20" y="436.50" font-size="10" fill="#222" text-anchor="middle" font-weight="normal" stroke="#222" stroke-width="0.05" >EOL-1</text>
<path d="M61.23 479.55V470.87M59.63 470.87H62.83" stroke="#9491b8" stroke-width="0.8" fill="none" opacity="0.7"/>
<polyline points="54.50,451.30 57.94,460.66 61.23,479.55 67.02,516.49 79.85,530.78 104.58,533.42 148.40,536.40" stroke="#9491b8" stroke-width="1.2" fill="none" stroke-linejoin="round"/>
<circle cx="54.50" cy="451.30" r="1.9" fill="#9491b8"/>
<circle cx="57.94" cy="460.66" r="1.9" fill="#9491b8"/>
<circle cx="61.23" cy="479.55" r="1.9" fill="#9491b8"/>
<circle cx="67.02" cy="516.49" r="1.9" fill="#9491b8"/>
<circle cx="79.85" cy="530.78" r="1.9" fill="#9491b8"/>
<circle cx="104.58" cy="533.42" r="1.9" fill="#9491b8"/>
<circle cx="148.40" cy="536.40" r="1.9" fill="#9491b8"/>
<path d="M64.52 463.21V459.81M62.92 459.81H66.12" stroke="#2f9a40" stroke-width="0.8" fill="none" opacity="0.7"/>
<polyline points="54.50,451.30 57.94,460.66 61.23,465.60 64.52,463.21 70.15,528.91 73.28,534.70 79.54,535.12 85.80,535.97" stroke="#2f9a40" stroke-width="1.1" fill="none" stroke-linejoin="round"/>
<circle cx="54.50" cy="451.30" r="1.7" fill="#2f9a40"/>
<circle cx="57.94" cy="460.66" r="1.7" fill="#2f9a40"/>
<circle cx="61.23" cy="465.60" r="1.7" fill="#2f9a40"/>
<circle cx="64.52" cy="463.21" r="1.7" fill="#2f9a40"/>
<circle cx="70.15" cy="528.91" r="1.7" fill="#2f9a40"/>
<circle cx="73.28" cy="534.70" r="1.7" fill="#2f9a40"/>
<circle cx="79.54" cy="535.12" r="1.7" fill="#2f9a40"/>
<circle cx="85.80" cy="535.97" r="1.7" fill="#2f9a40"/>
<path d="M57.94 455.73V448.32M56.34 448.32H59.54M62.79 455.38V447.90M61.19 447.90H64.39M70.62 488.06V469.68M69.02 469.68H72.22M73.44 510.27V500.66M71.84 500.66H75.04M85.80 528.06V525.34M84.20 525.34H87.40" stroke="#3b1a4a" stroke-width="0.8" fill="none" opacity="0.7"/>
<polyline points="54.50,451.30 57.94,455.73 62.79,455.38 70.62,488.06 73.44,510.27 77.97,523.12 85.80,528.06 101.45,532.14 117.10,533.85 132.75,534.87 148.40,535.97" stroke="#3b1a4a" stroke-width="1.3" fill="none" stroke-linejoin="round"/>
<circle cx="54.50" cy="451.30" r="1.9" fill="#3b1a4a"/>
<circle cx="57.94" cy="455.73" r="1.9" fill="#3b1a4a"/>
<circle cx="62.79" cy="455.38" r="1.9" fill="#3b1a4a"/>
<circle cx="70.62" cy="488.06" r="1.9" fill="#3b1a4a"/>
<circle cx="73.44" cy="510.27" r="1.9" fill="#3b1a4a"/>
<circle cx="77.97" cy="523.12" r="1.9" fill="#3b1a4a"/>
<circle cx="85.80" cy="528.06" r="1.9" fill="#3b1a4a"/>
<circle cx="101.45" cy="532.14" r="1.9" fill="#3b1a4a"/>
<circle cx="117.10" cy="533.85" r="1.9" fill="#3b1a4a"/>
<circle cx="132.75" cy="534.87" r="1.9" fill="#3b1a4a"/>
<circle cx="148.40" cy="535.97" r="1.9" fill="#3b1a4a"/>
<path d="M70.40 574.00h8.8" stroke="#3b1a4a" stroke-width="1.1"/>
<circle cx="74.80" cy="574.00" r="1.5" fill="#3b1a4a"/>
<text x="82.40" y="576.90" font-size="8" fill="#222" text-anchor="start" font-weight="normal" stroke="#222" stroke-width="0.14" >MS452 (n = 4)</text>
<path d="M70.40 585.60h8.8" stroke="#9491b8" stroke-width="1.1"/>
<circle cx="74.80" cy="585.60" r="1.5" fill="#9491b8"/>
<text x="82.40" y="588.50" font-size="8" fill="#222" text-anchor="start" font-weight="normal" stroke="#222" stroke-width="0.14" >EC-134 (n = 3)</text>
<path d="M70.40 597.20h8.8" stroke="#2f9a40" stroke-width="1.1"/>
<circle cx="74.80" cy="597.20" r="1.5" fill="#2f9a40"/>
<text x="82.40" y="600.10" font-size="8" fill="#222" text-anchor="start" font-weight="normal" stroke="#222" stroke-width="0.14" >BDA-41 (n = 3)</text>
<path d="M216.10 442.50V536.70" stroke="#222" stroke-width="1.1" fill="none"/>
<path d="M215.60 536.40H313.02" stroke="#222" stroke-width="1.5" fill="none"/>
<path d="M213.50 536.40H216.1M213.50 519.38H216.1M213.50 502.36H216.1M213.50 485.34H216.1M213.50 468.32H216.1M213.50 451.30H216.1M216.10 536.4V539.20M231.72 536.4V539.20M247.34 536.4V539.20M262.96 536.4V539.20M278.58 536.4V539.20M294.20 536.4V539.20M309.82 536.4V539.20" stroke="#222" stroke-width="0.9" fill="none"/>
<text x="210.60" y="539.25" font-size="8" fill="#333" text-anchor="end" font-weight="normal" stroke="#333" stroke-width="0.14" letter-spacing="0.7" >0</text>
<text x="210.60" y="522.23" font-size="8" fill="#333" text-anchor="end" font-weight="normal" stroke="#333" stroke-width="0.14" letter-spacing="0.7" >20</text>
<text x="210.60" y="505.21" font-size="8" fill="#333" text-anchor="end" font-weight="normal" stroke="#333" stroke-width="0.14" letter-spacing="0.7" >40</text>
<text x="210.60" y="488.19" font-size="8" fill="#333" text-anchor="end" font-weight="normal" stroke="#333" stroke-width="0.14" letter-spacing="0.7" >60</text>
<text x="210.60" y="471.17" font-size="8" fill="#333" text-anchor="end" font-weight="normal" stroke="#333" stroke-width="0.14" letter-spacing="0.7" >80</text>
<text x="210.60" y="454.15" font-size="8" fill="#333" text-anchor="end" font-weight="normal" stroke="#333" stroke-width="0.14" letter-spacing="0.7" >100</text>
<text x="216.45" y="549.90" font-size="8" fill="#333" text-anchor="middle" font-weight="normal" stroke="#333" stroke-width="0.14" letter-spacing="0.7" >0</text>
<text x="232.07" y="549.90" font-size="8" fill="#333" text-anchor="middle" font-weight="normal" stroke="#333" stroke-width="0.14" letter-spacing="0.7" >10</text>
<text x="247.69" y="549.90" font-size="8" fill="#333" text-anchor="middle" font-weight="normal" stroke="#333" stroke-width="0.14" letter-spacing="0.7" >20</text>
<text x="263.31" y="549.90" font-size="8" fill="#333" text-anchor="middle" font-weight="normal" stroke="#333" stroke-width="0.14" letter-spacing="0.7" >30</text>
<text x="278.93" y="549.90" font-size="8" fill="#333" text-anchor="middle" font-weight="normal" stroke="#333" stroke-width="0.14" letter-spacing="0.7" >40</text>
<text x="294.55" y="549.90" font-size="8" fill="#333" text-anchor="middle" font-weight="normal" stroke="#333" stroke-width="0.14" letter-spacing="0.7" >50</text>
<text x="310.17" y="549.90" font-size="8" fill="#333" text-anchor="middle" font-weight="normal" stroke="#333" stroke-width="0.14" letter-spacing="0.7" >60</text>
<text transform="translate(264.26,563.80)" x="0" y="0" font-size="9.6" fill="#222" text-anchor="middle" textLength="58.8" lengthAdjust="spacingAndGlyphs" stroke="#222" stroke-width="0.25">Concentration (uM)</text>
<text transform="translate(177.50,490.25) rotate(-90)" x="0" y="0" font-size="9.8" fill="#222" text-anchor="middle" textLength="76.5" lengthAdjust="spacingAndGlyphs" stroke="#222" stroke-width="0.15">%Viable cells normalized</text>
<text transform="translate(189.20,488.95) rotate(-90)" x="0" y="0" font-size="10.4" fill="#222" text-anchor="middle" textLength="49" lengthAdjust="spacingAndGlyphs" stroke="#222" stroke-width="0.15">to DMSO control</text>
<text x="264.60" y="436.50" font-size="10" fill="#222" text-anchor="middle" font-weight="normal" stroke="#222" stroke-width="0.05" >MUTZ8</text>
<path d="M222.04 476.40V470.62M220.44 470.62H223.64M266.08 494.28V490.87M264.48 490.87H267.68M278.58 498.19V493.42M276.98 493.42H280.18M309.82 502.36V498.10M308.22 498.10H311.42" stroke="#9491b8" stroke-width="0.8" fill="none" opacity="0.7"/>
<polyline points="216.10,451.30 222.04,476.40 228.13,485.51 239.84,488.49 266.08,494.28 278.58,498.19 309.82,502.36" stroke="#9491b8" stroke-width="1.2" fill="none" stroke-linejoin="round"/>
<circle cx="216.10" cy="451.30" r="1.9" fill="#9491b8"/>
<circle cx="222.04" cy="476.40" r="1.9" fill="#9491b8"/>
<circle cx="228.13" cy="485.51" r="1.9" fill="#9491b8"/>
<circle cx="239.84" cy="488.49" r="1.9" fill="#9491b8"/>
<circle cx="266.08" cy="494.28" r="1.9" fill="#9491b8"/>
<circle cx="278.58" cy="498.19" r="1.9" fill="#9491b8"/>
<circle cx="309.82" cy="502.36" r="1.9" fill="#9491b8"/>
<path d="M241.09 523.81V515.30M239.49 515.30H242.69M247.34 525.76V515.30M245.74 515.30H248.94M231.56 489.59V483.64M229.96 483.64H233.16" stroke="#2f9a40" stroke-width="0.8" fill="none" opacity="0.7"/>
<polyline points="216.10,451.30 222.04,451.39 225.47,468.32 231.56,489.59 235.00,502.87 241.09,523.81 247.34,525.76" stroke="#2f9a40" stroke-width="1.1" fill="none" stroke-linejoin="round"/>
<circle cx="216.10" cy="451.30" r="1.7" fill="#2f9a40"/>
<circle cx="222.04" cy="451.39" r="1.7" fill="#2f9a40"/>
<circle cx="225.47" cy="468.32" r="1.7" fill="#2f9a40"/>
<circle cx="231.56" cy="489.59" r="1.7" fill="#2f9a40"/>
<circle cx="235.00" cy="502.87" r="1.7" fill="#2f9a40"/>
<circle cx="241.09" cy="523.81" r="1.7" fill="#2f9a40"/>
<circle cx="247.34" cy="525.76" r="1.7" fill="#2f9a40"/>
<path d="M231.56 471.04V466.79M229.96 466.79H233.16M239.84 487.38V474.11M238.24 474.11H241.44M247.34 503.38V496.57M245.74 496.57H248.94M262.96 519.29V515.30M261.36 515.30H264.56M278.58 518.19V511.13M276.98 511.13H280.18M294.20 521.59V516.83M292.60 516.83H295.80M309.82 530.87V527.89M308.22 527.89H311.42" stroke="#3b1a4a" stroke-width="0.8" fill="none" opacity="0.7"/>
<polyline points="216.10,451.30 231.56,471.04 239.84,487.38 247.34,503.38 262.96,519.29 278.58,518.19 294.20,521.59 309.82,530.87" stroke="#3b1a4a" stroke-width="1.3" fill="none" stroke-linejoin="round"/>
<circle cx="216.10" cy="451.30" r="1.9" fill="#3b1a4a"/>
<circle cx="231.56" cy="471.04" r="1.9" fill="#3b1a4a"/>
<circle cx="239.84" cy="487.38" r="1.9" fill="#3b1a4a"/>
<circle cx="247.34" cy="503.38" r="1.9" fill="#3b1a4a"/>
<circle cx="262.96" cy="519.29" r="1.9" fill="#3b1a4a"/>
<circle cx="278.58" cy="518.19" r="1.9" fill="#3b1a4a"/>
<circle cx="294.20" cy="521.59" r="1.9" fill="#3b1a4a"/>
<circle cx="309.82" cy="530.87" r="1.9" fill="#3b1a4a"/>
<path d="M232.90 574.00h8.8" stroke="#3b1a4a" stroke-width="1.1"/>
<circle cx="237.30" cy="574.00" r="1.5" fill="#3b1a4a"/>
<text x="244.90" y="576.90" font-size="8" fill="#222" text-anchor="start" font-weight="normal" stroke="#222" stroke-width="0.14" >MS452 (n = 4)</text>
<path d="M232.90 585.60h8.8" stroke="#9491b8" stroke-width="1.1"/>
<circle cx="237.30" cy="585.60" r="1.5" fill="#9491b8"/>
<text x="244.90" y="588.50" font-size="8" fill="#222" text-anchor="start" font-weight="normal" stroke="#222" stroke-width="0.14" >EC-134 (n = 4)</text>
<path d="M232.90 597.20h8.8" stroke="#2f9a40" stroke-width="1.1"/>
<circle cx="237.30" cy="597.20" r="1.5" fill="#2f9a40"/>
<text x="244.90" y="600.10" font-size="8" fill="#222" text-anchor="start" font-weight="normal" stroke="#222" stroke-width="0.14" >BDA-41 (n = 4)</text>
<rect x="400.20" y="238.00" width="28.00" height="27.70" fill="#aa0808"/>
<rect x="428.20" y="238.00" width="28.70" height="27.70" fill="#f18838"/>
<rect x="456.90" y="238.00" width="26.60" height="27.70" fill="#fcfadc"/>
<rect x="400.20" y="265.70" width="28.00" height="27.70" fill="#f08737"/>
<rect x="428.20" y="265.70" width="28.70" height="27.70" fill="#d75920"/>
<rect x="456.90" y="265.70" width="26.60" height="27.70" fill="#f9ad5e"/>
<rect x="400.20" y="293.40" width="28.00" height="27.70" fill="#f38f3e"/>
<rect x="428.20" y="293.40" width="28.70" height="27.70" fill="#de6220"/>
<rect x="456.90" y="293.40" width="26.60" height="27.70" fill="#f69e48"/>
<rect x="400.20" y="321.10" width="28.00" height="27.70" fill="#f9ad5e"/>
<rect x="428.20" y="321.10" width="28.70" height="27.70" fill="#fdf0c6"/>
<rect x="456.90" y="321.10" width="26.60" height="27.70" fill="#fbd091"/>
<text x="414.20" y="254.80" font-size="8.2" fill="#ffe4e4" text-anchor="middle" font-weight="normal" stroke="#ffe4e4" stroke-width="0.14" >37.7</text>
<text x="442.55" y="254.80" font-size="8.2" fill="#3a1a0c" text-anchor="middle" font-weight="normal" stroke="#3a1a0c" stroke-width="0.14" >16.9</text>
<text x="470.20" y="254.80" font-size="8.2" fill="#3a1a0c" text-anchor="middle" font-weight="normal" stroke="#3a1a0c" stroke-width="0.14" >4.1</text>
<text x="414.20" y="282.50" font-size="8.2" fill="#3a1a0c" text-anchor="middle" font-weight="normal" stroke="#3a1a0c" stroke-width="0.14" >17.2</text>
<text x="442.55" y="282.50" font-size="8.2" fill="#3a1a0c" text-anchor="middle" font-weight="normal" stroke="#3a1a0c" stroke-width="0.14" >24.7</text>
<text x="470.20" y="282.50" font-size="8.2" fill="#3a1a0c" text-anchor="middle" font-weight="normal" stroke="#3a1a0c" stroke-width="0.14" >10.4</text>
<text x="414.20" y="310.20" font-size="8.2" fill="#3a1a0c" text-anchor="middle" font-weight="normal" stroke="#3a1a0c" stroke-width="0.14" >15.3</text>
<text x="442.55" y="310.20" font-size="8.2" fill="#3a1a0c" text-anchor="middle" font-weight="normal" stroke="#3a1a0c" stroke-width="0.14" >22.4</text>
<text x="470.20" y="310.20" font-size="8.2" fill="#3a1a0c" text-anchor="middle" font-weight="normal" stroke="#3a1a0c" stroke-width="0.14" >12.5</text>
<text x="414.20" y="337.90" font-size="8.2" fill="#3a1a0c" text-anchor="middle" font-weight="normal" stroke="#3a1a0c" stroke-width="0.14" >10.4</text>
<text x="442.55" y="337.90" font-size="8.2" fill="#3a1a0c" text-anchor="middle" font-weight="normal" stroke="#3a1a0c" stroke-width="0.14" >5.2</text>
<text x="470.20" y="337.90" font-size="8.2" fill="#3a1a0c" text-anchor="middle" font-weight="normal" stroke="#3a1a0c" stroke-width="0.14" >7.5</text>
<rect x="400.20" y="238.00" width="83.30" height="110.80" fill="none" stroke="#333" stroke-width="1"/>
<text x="393.60" y="254.75" font-size="8" fill="#222" text-anchor="end" font-weight="normal" stroke="#222" stroke-width="0.14" >KG-1</text>
<text x="393.60" y="282.45" font-size="8" fill="#222" text-anchor="end" font-weight="normal" stroke="#222" stroke-width="0.14" >MUTZ8</text>
<text x="393.60" y="310.15" font-size="8" fill="#222" text-anchor="end" font-weight="normal" stroke="#222" stroke-width="0.14" >OCI-AML3</text>
<text x="393.60" y="337.85" font-size="8" fill="#222" text-anchor="end" font-weight="normal" stroke="#222" stroke-width="0.14" >EOL-1</text>
<path d="M396.8 251.85H400.20M396.8 279.55H400.20M396.8 307.25H400.20M396.8 334.95H400.20M414.20 348.80V351.80M442.55 348.80V351.80M470.20 348.80V351.80" stroke="#333" stroke-width="0.9"/>
<text transform="translate(417.00,358.80) rotate(-45)" font-size="8" fill="#222" text-anchor="end">MS452</text>
<text transform="translate(445.35,358.80) rotate(-45)" font-size="8" fill="#222" text-anchor="end">EC-134</text>
<text transform="translate(473.00,358.80) rotate(-45)" font-size="8" fill="#222" text-anchor="end">BDA-41</text>
<defs><linearGradient id="cb" x1="0" y1="1" x2="0" y2="0">
<stop offset="0.000" stop-color="#fcfadc"/>
<stop offset="0.050" stop-color="#fce8b9"/>
<stop offset="0.100" stop-color="#fbd192"/>
<stop offset="0.150" stop-color="#fabc74"/>
<stop offset="0.200" stop-color="#f8aa5a"/>
<stop offset="0.250" stop-color="#f69e48"/>
<stop offset="0.300" stop-color="#f49542"/>
<stop offset="0.350" stop-color="#f28d3c"/>
<stop offset="0.400" stop-color="#ef8436"/>
<stop offset="0.450" stop-color="#e9782e"/>
<stop offset="0.500" stop-color="#e36d27"/>
<stop offset="0.550" stop-color="#dd6120"/>
<stop offset="0.600" stop-color="#d85b20"/>
<stop offset="0.650" stop-color="#d3501d"/>
<stop offset="0.700" stop-color="#cd4419"/>
<stop offset="0.750" stop-color="#c73716"/>
<stop offset="0.800" stop-color="#c12d12"/>
<stop offset="0.850" stop-color="#bb2310"/>
<stop offset="0.900" stop-color="#b51a0d"/>
<stop offset="0.950" stop-color="#b0110b"/>
<stop offset="1.000" stop-color="#aa0808"/>
</linearGradient></defs>
<rect x="502.0" y="238.2" width="11.0" height="109.5" fill="url(#cb)" stroke="#333" stroke-width="1"/>
<text x="499.20" y="347.62" font-size="8" fill="#333" text-anchor="end" font-weight="normal" stroke="#333" stroke-width="0.14" letter-spacing="0.7" >5</text>
<text x="499.20" y="331.32" font-size="8" fill="#333" text-anchor="end" font-weight="normal" stroke="#333" stroke-width="0.14" letter-spacing="0.7" >10</text>
<text x="499.20" y="315.03" font-size="8" fill="#333" text-anchor="end" font-weight="normal" stroke="#333" stroke-width="0.14" letter-spacing="0.7" >15</text>
<text x="499.20" y="298.73" font-size="8" fill="#333" text-anchor="end" font-weight="normal" stroke="#333" stroke-width="0.14" letter-spacing="0.7" >20</text>
<text x="499.20" y="282.44" font-size="8" fill="#333" text-anchor="end" font-weight="normal" stroke="#333" stroke-width="0.14" letter-spacing="0.7" >25</text>
<text x="499.20" y="266.14" font-size="8" fill="#333" text-anchor="end" font-weight="normal" stroke="#333" stroke-width="0.14" letter-spacing="0.7" >30</text>
<text x="499.20" y="249.85" font-size="8" fill="#333" text-anchor="end" font-weight="normal" stroke="#333" stroke-width="0.14" letter-spacing="0.7" >35</text>
<path d="M502.00 344.77h1.6M513.00 344.77h-1.6M502.00 328.47h1.6M513.00 328.47h-1.6M502.00 312.18h1.6M513.00 312.18h-1.6M502.00 295.88h1.6M513.00 295.88h-1.6M502.00 279.59h1.6M513.00 279.59h-1.6M502.00 263.29h1.6M513.00 263.29h-1.6M502.00 247.00h1.6M513.00 247.00h-1.6" stroke="#333" stroke-width="0.8"/>
<text transform="translate(508,358.8) rotate(-45)" font-size="8" fill="#222" text-anchor="end">IC50 value</text>
<rect x="0.5" y="0.5" width="519" height="608" fill="none" stroke="#555" stroke-width="1"/>
</svg></body></html>
